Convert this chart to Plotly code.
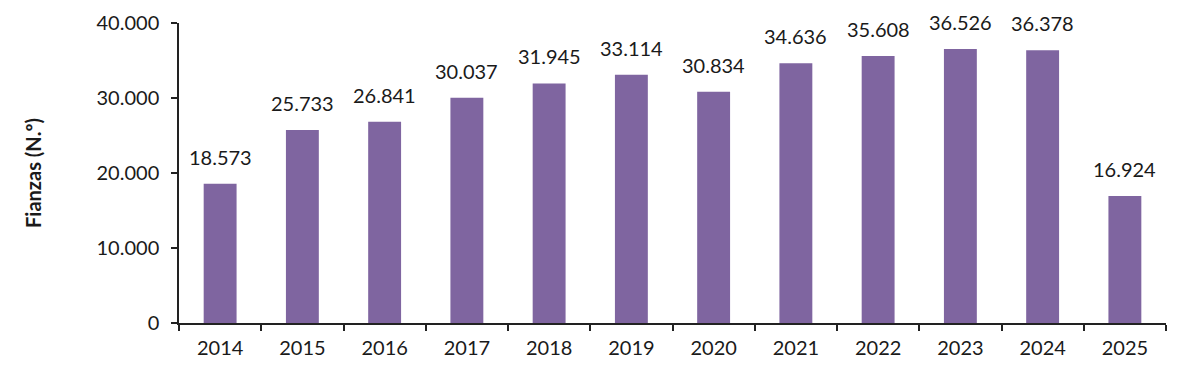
import plotly.graph_objects as go

years = ["2014", "2015", "2016", "2017", "2018", "2019", "2020", "2021", "2022", "2023", "2024", "2025"]
fianzas = [18573, 25733, 26841, 30037, 31945, 33114, 30834, 34636, 35608, 36526, 36378, 16924]
y_ticks = [0, 10000, 20000, 30000, 40000]

FONT = "Lato, 'Open Sans', sans-serif"
TXT = "#1a1a1a"

fig = go.Figure(go.Bar(
    x=years, y=fianzas,
    marker=dict(color="#7f65a0", line=dict(width=0)),
    hoverinfo="x+y",
))

for i, v in enumerate(fianzas):
    fig.add_annotation(
        x=i, y=v, text=f"{v:,}".replace(",", "."),
        showarrow=False, yanchor="bottom", yshift=13,
        font=dict(size=20, family=FONT, color=TXT),
    )

fig.update_layout(
    width=1200, height=383,
    margin=dict(l=171, r=42, t=15, b=68, autoexpand=False),
    plot_bgcolor="white", paper_bgcolor="white",
    separators=",.",
    bargap=0.6,
    showlegend=False,
    font=dict(family=FONT, color=TXT),
)
fig.update_xaxes(
    type="category", automargin=False,
    showline=True, linecolor="#222", linewidth=1.5,
    ticks="outside", tickson="boundaries", ticklen=6, tickcolor="#222", tickwidth=1.5,
    ticklabelstandoff=6,
    tickfont=dict(size=20, family=FONT, color=TXT),
    showgrid=False,
)
fig.update_yaxes(
    range=[0, 40000], tickvals=y_ticks, tickformat=",", automargin=False,
    showline=True, linecolor="#222", linewidth=1.5,
    ticks="outside", ticklen=6, tickcolor="#222", tickwidth=1.5,
    ticklabelstandoff=8,
    tickfont=dict(size=20, family=FONT, color=TXT),
    showgrid=False, zeroline=False,
    title=dict(text="<b>Fianzas (N.º)</b>", font=dict(size=20, family=FONT, color=TXT), standoff=50),
)

fig.write_html("out.html")
